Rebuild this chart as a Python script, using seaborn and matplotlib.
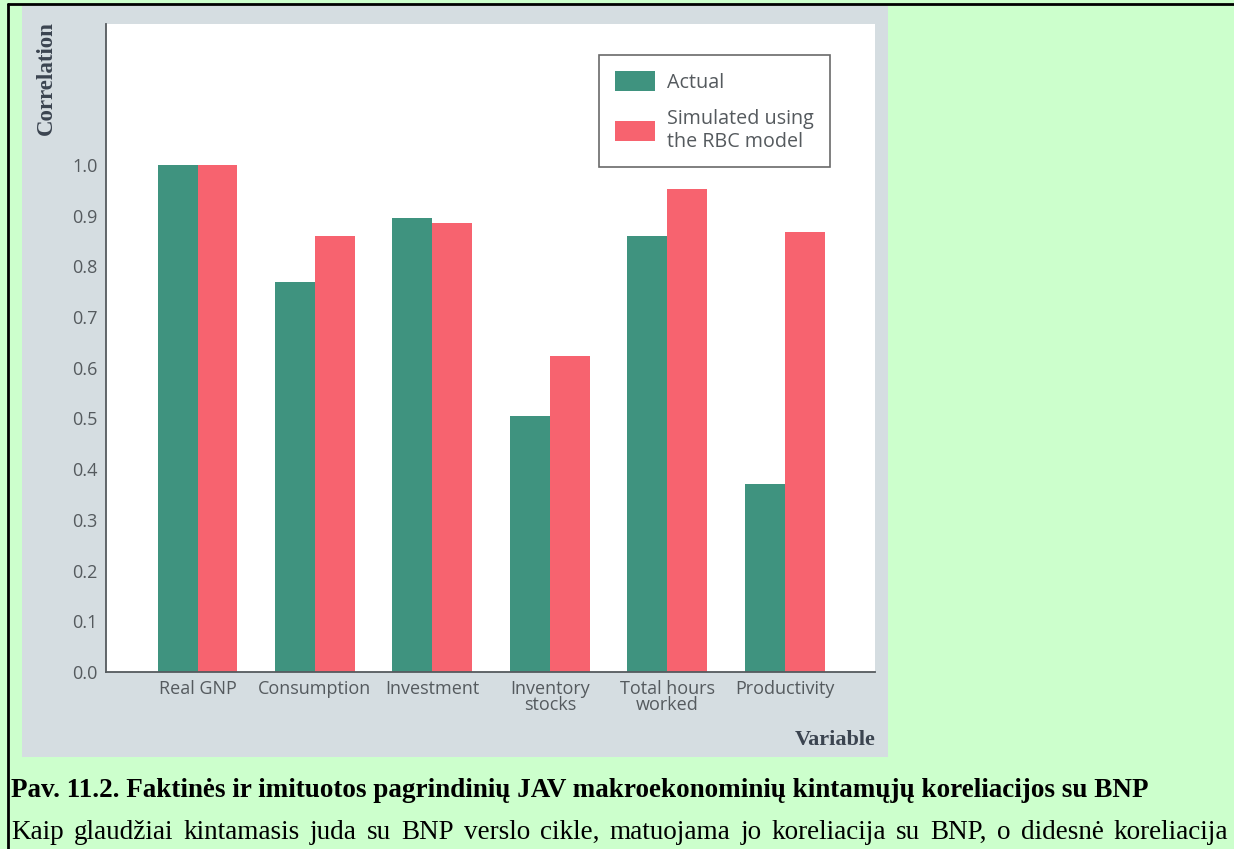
import matplotlib
matplotlib.use("Agg")
import matplotlib.pyplot as plt
from matplotlib.patches import Rectangle, Patch
from matplotlib.lines import Line2D
import seaborn as sns
import pandas as pd

# Correlation with GNP: actual US data vs. RBC model simulation
variables = ["Real GNP", "Consumption", "Investment", "Inventory\nstocks",
             "Total hours\nworked", "Productivity"]
actual = [1.00, 0.77, 0.895, 0.505, 0.86, 0.37]
simulated = [1.00, 0.86, 0.885, 0.623, 0.952, 0.868]
series_names = ["Actual", "Simulated using\nthe RBC model"]
y_ticks = [0.0, 0.1, 0.2, 0.3, 0.4, 0.5, 0.6, 0.7, 0.8, 0.9, 1.0]

caption_title = ("Pav. 11.2. Faktinės ir imituotos pagrindinių JAV "
                 "makroekonominių kintamųjų koreliacijos su BNP")
caption_body = ("Kaip glaudžiai kintamasis juda su BNP verslo cikle, matuojama "
                "jo koreliacija su BNP, o didesnė koreliacija")

df = pd.DataFrame({
    "Variable": variables * 2,
    "Correlation": actual + simulated,
    "Series": [series_names[0]] * len(variables) + [series_names[1]] * len(variables),
})

GREEN = "#3f937f"
RED = "#f7636f"
PANEL = "#d5dde1"
PAGE = "#ccffcc"
AXIS = "#555a5e"
LABEL = "#3b4450"

sns.set_style("white")
plt.rcParams["font.family"] = ["Open Sans", "DejaVu Sans"]

W, H = 1234, 849
fig = plt.figure(figsize=(W / 100, H / 100), dpi=100)
fig.patch.set_facecolor(PAGE)


def fx(px):
    return px / W


def fy(py):
    return 1 - py / H


# page frame lines (top and left)
fig.add_artist(Line2D([fx(8), 1], [fy(4), fy(4)], color="black", lw=2))
fig.add_artist(Line2D([fx(8), fx(8)], [fy(4), 0], color="black", lw=2))

# grey figure panel
fig.add_artist(Rectangle((fx(22), fy(757)), fx(888) - fx(22), fy(5) - fy(757),
                         transform=fig.transFigure, facecolor=PANEL,
                         edgecolor="none", zorder=0))

ax = fig.add_axes([fx(106), fy(672), fx(875) - fx(106), fy(24) - fy(672)])
ax.set_facecolor("white")

sns.barplot(data=df, x="Variable", y="Correlation", hue="Series",
            palette=[GREEN, RED], width=0.68, gap=0, saturation=1,
            edgecolor="none", linewidth=0, ax=ax, legend=False)

ax.set_ylim(0, 1.278)
ax.set_xlim(-0.78, 5.77)
ax.set_yticks(y_ticks)
ax.set_yticklabels([f"{v:.1f}" for v in y_ticks])
ax.set_xlabel("")
ax.set_ylabel("")

for side in ["top", "right"]:
    ax.spines[side].set_visible(False)
for side in ["left", "bottom"]:
    ax.spines[side].set_color(AXIS)
    ax.spines[side].set_linewidth(1.3)

ax.tick_params(axis="y", direction="in", length=8, width=1.1, color=AXIS,
               labelsize=13, labelcolor=AXIS, pad=6)
ax.tick_params(axis="x", length=0, labelsize=13, labelcolor=AXIS, pad=6)
for lbl in ax.get_xticklabels():
    lbl.set_linespacing(0.85)

# axis titles
fig.text(fx(46), fy(78), "Correlation", rotation=90, ha="center", va="center",
         family="Liberation Serif", weight="bold", fontsize=16.5, color=LABEL)
fig.text(fx(876), fy(740), "Variable", ha="right", va="center",
         family="Liberation Serif", weight="bold", fontsize=16, color=LABEL)

# legend
handles = [Patch(facecolor=GREEN, edgecolor="none"),
           Patch(facecolor=RED, edgecolor="none")]
leg = ax.legend(handles, series_names, loc="upper left",
                bbox_to_anchor=(fx(599), fy(55)), bbox_transform=fig.transFigure,
                fontsize=14.2, frameon=True, fancybox=False, borderpad=0.8,
                handlelength=2.05, handleheight=1.2, handletextpad=0.6,
                labelspacing=0.85, borderaxespad=0)
leg.get_frame().set_edgecolor("#444444")
leg.get_frame().set_linewidth(1.2)
for t in leg.get_texts():
    t.set_color(AXIS)
    t.set_linespacing(1.15)

# caption below the figure
fig.text(fx(11), fy(797), caption_title, ha="left", va="baseline",
         family="Liberation Serif", weight="bold", fontsize=19.5, color="black")

# justified first line of the caption body
words = caption_body.split(" ")
left_px, right_px, body_base = 11, 1228, 839
word_texts = [fig.text(0, fy(body_base), w, ha="left", va="baseline",
                       family="Liberation Serif", fontsize=19.5, color="black")
              for w in words]
fig.canvas.draw()
renderer = fig.canvas.get_renderer()
widths = [t.get_window_extent(renderer).width for t in word_texts]
gap = (right_px - left_px - sum(widths)) / (len(words) - 1)
x = left_px
for t, w in zip(word_texts, widths):
    t.set_x(fx(x))
    x += w + gap

fig.savefig("out.png", dpi=100, facecolor=fig.get_facecolor())
